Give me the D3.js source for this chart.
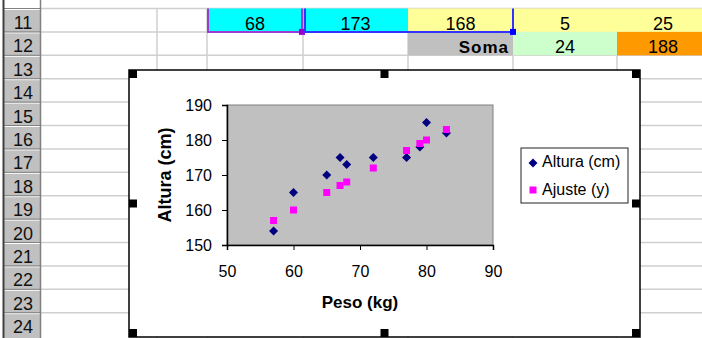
<!DOCTYPE html>
<html>
<head>
<meta charset="utf-8">
<script src="https://cdn.jsdelivr.net/npm/d3@7"></script>
<style>
  body { margin: 0; background: #fff; }
  svg { display: block; font-family: "Liberation Sans", Arial, sans-serif; }
</style>
</head>
<body>
<div id="container"></div>
<script>
// sheet content
const rowNumbers = [11, 12, 13, 14, 15, 16, 17, 18, 19, 20, 21, 22, 23, 24];
const row11Values = [68, 173, 168, 5, 25];
const row12Label = "Soma";
const row12Values = [24, 188];

// chart data
const peso = [57, 60, 65, 67, 68, 72, 77, 79, 80, 83];
const altura = [154, 165, 170, 175, 173, 175, 175, 178, 185, 182];
const ajuste = [157, 160, 165, 167, 168, 172, 177, 179, 180, 183];
const xTicks = [50, 60, 70, 80, 90];
const yTicks = [150, 160, 170, 180, 190];
const seriesNames = ["Altura (cm)", "Ajuste (y)"];

// layout
const width = 702, height = 338;
const colEdges = [41, 157, 207, 303, 408, 513, 617, 709];
const row11Fills = ["#00ffff", "#00ffff", "#ffff99", "#ffff99", "#ffff99"];
const row12Fills = ["#c0c0c0", "#ccffcc", "#ff9900"];
const rowY = d3.scaleLinear().domain([11, 12]).range([8.5, 31.9]);
const rowH = rowY(12) - rowY(11);

const svg = d3.select("#container").append("svg")
    .attr("width", width)
    .attr("height", height);

svg.append("rect").attr("width", width).attr("height", height).attr("fill", "#fff");

// gridlines
const grid = svg.append("g").attr("stroke", "#cfcfcf").attr("stroke-width", 1.5);
colEdges.slice(1, -1).forEach(x => {
    grid.append("line").attr("x1", x).attr("x2", x).attr("y1", rowY(11)).attr("y2", height);
});
rowNumbers.forEach(r => {
    grid.append("line").attr("x1", 41).attr("x2", width).attr("y1", rowY(r)).attr("y2", rowY(r));
});

// filled cells of row 11 (columns C..G) and row 12 (columns E..G)
row11Values.forEach((v, i) => {
    let c = i + 2;
    svg.append("rect")
        .attr("x", colEdges[c]).attr("y", rowY(11))
        .attr("width", colEdges[c + 1] - colEdges[c]).attr("height", rowH)
        .attr("fill", row11Fills[i]);
    svg.append("text")
        .attr("x", (colEdges[c] + colEdges[c + 1]) / 2)
        .attr("y", rowY(11) + 21)
        .attr("text-anchor", "middle")
        .attr("font-size", 18)
        .text(v);
});
[row12Label].concat(row12Values).forEach((v, i) => {
    let c = i + 4;
    svg.append("rect")
        .attr("x", colEdges[c]).attr("y", rowY(12))
        .attr("width", colEdges[c + 1] - colEdges[c]).attr("height", rowH)
        .attr("fill", row12Fills[i]);
    let t = svg.append("text").attr("y", rowY(12) + 21).attr("font-size", 18).text(v);
    if (i == 0) {
        t.attr("x", colEdges[c + 1] - 4).attr("text-anchor", "end")
            .attr("font-weight", "bold").attr("font-size", 17).attr("letter-spacing", 1);
    } else {
        t.attr("x", (colEdges[c] + colEdges[c + 1]) / 2).attr("text-anchor", "middle");
    }
});

// formula range highlights
svg.append("path")
    .attr("d", `M${colEdges[2] + 1},${rowY(11)} V${rowY(12)} H${colEdges[3] - 1} V${rowY(11)}`)
    .attr("fill", "none").attr("stroke", "#9a3cd8").attr("stroke-width", 2);
svg.append("rect").attr("x", colEdges[3] - 4).attr("y", rowY(12) - 3).attr("width", 6).attr("height", 6).attr("fill", "#9900cc");
svg.append("path")
    .attr("d", `M${colEdges[3] + 2},${rowY(11)} V${rowY(12)} H${colEdges[5]} V${rowY(11)}`)
    .attr("fill", "none").attr("stroke", "#3333ff").attr("stroke-width", 2);
svg.append("rect").attr("x", colEdges[5] - 3).attr("y", rowY(12) - 3).attr("width", 6).attr("height", 6).attr("fill", "#0000ff");

// row headers
const header = svg.append("g");
header.append("rect").attr("x", 4).attr("y", rowY(11)).attr("width", 36).attr("height", height).attr("fill", "#c0c0c0");
rowNumbers.forEach(r => {
    header.append("line").attr("x1", 4).attr("x2", 40).attr("y1", rowY(r) + 1).attr("y2", rowY(r) + 1).attr("stroke", "#fff");
    header.append("line").attr("x1", 4).attr("x2", 40).attr("y1", rowY(r)).attr("y2", rowY(r)).attr("stroke", "#808080");
    header.append("text")
        .attr("x", 23).attr("y", rowY(r) + 20.5)
        .attr("text-anchor", "middle").attr("font-size", 18).attr("fill", "#111")
        .text(r);
});
header.append("line").attr("x1", 3.5).attr("x2", 3.5).attr("y1", 0).attr("y2", height).attr("stroke", "#404040").attr("stroke-width", 2);
header.append("line").attr("x1", 40.5).attr("x2", 40.5).attr("y1", 0).attr("y2", height).attr("stroke", "#808080").attr("stroke-width", 1.5);

// embedded chart object
const chart = { left: 129, top: 70, right: 640, bottom: 337 };
svg.append("rect")
    .attr("x", chart.left).attr("y", chart.top)
    .attr("width", chart.right - chart.left).attr("height", chart.bottom - chart.top)
    .attr("fill", "#fff").attr("stroke", "#000").attr("stroke-width", 1.5);

const plot = { left: 227, top: 105, right: 493, bottom: 245 };
const x = d3.scaleLinear().domain([50, 90]).range([plot.left, plot.right]);
const y = d3.scaleLinear().domain([150, 190]).range([plot.bottom, plot.top]);

svg.append("rect")
    .attr("x", plot.left).attr("y", plot.top)
    .attr("width", plot.right - plot.left).attr("height", plot.bottom - plot.top)
    .attr("fill", "#c0c0c0").attr("stroke", "#808080").attr("stroke-width", 1);

const xAxis = svg.append("g")
    .attr("transform", `translate(0,${plot.bottom})`)
    .call(d3.axisBottom(x).tickValues(xTicks).tickSizeOuter(0).tickSize(5).tickPadding(16));
const yAxis = svg.append("g")
    .attr("transform", `translate(${plot.left},0)`)
    .call(d3.axisLeft(y).tickValues(yTicks).tickSizeOuter(0).tickSize(5).tickPadding(10));
[xAxis, yAxis].forEach(a => {
    a.select(".domain").attr("stroke", "#000").attr("stroke-width", 1.5);
    a.selectAll(".tick line").attr("stroke", "#000");
    a.selectAll(".tick text").attr("font-size", 16).attr("fill", "#000")
        .attr("font-family", "'Liberation Sans', Arial, sans-serif");
});

svg.append("text")
    .attr("transform", `translate(171,${(plot.top + plot.bottom) / 2}) rotate(-90)`)
    .attr("text-anchor", "middle").attr("font-size", 18).attr("font-weight", "bold")
    .text("Altura (cm)");
svg.append("text")
    .attr("x", (plot.left + plot.right) / 2).attr("y", 308)
    .attr("text-anchor", "middle").attr("font-size", 17).attr("font-weight", "bold")
    .text("Peso (kg)");

// markers
const diamond = (cx, cy) => `M${cx},${cy - 4.5}L${cx + 4.5},${cy}L${cx},${cy + 4.5}L${cx - 4.5},${cy}Z`;
svg.append("g").selectAll("path").data(peso).join("path")
    .attr("d", (d, i) => diamond(x(d), y(altura[i])))
    .attr("fill", "#000080");
svg.append("g").selectAll("rect").data(peso).join("rect")
    .attr("x", (d) => x(d) - 3.5)
    .attr("y", (d, i) => y(ajuste[i]) - 3.5)
    .attr("width", 7).attr("height", 7)
    .attr("fill", "#ff00ff");

// legend
const legend = svg.append("g");
legend.append("rect").attr("x", 521).attr("y", 148).attr("width", 107).attr("height", 55)
    .attr("fill", "#fff").attr("stroke", "#222").attr("stroke-width", 1);
legend.append("path").attr("d", diamond(533, 163)).attr("fill", "#000080");
legend.append("rect").attr("x", 529.5).attr("y", 186.5).attr("width", 7).attr("height", 7).attr("fill", "#ff00ff");
seriesNames.forEach((n, i) => {
    legend.append("text").attr("x", 542).attr("y", 167 + i * 28)
        .attr("font-size", 16).text(n);
});

// selection handles of the chart
const midX = (chart.left + chart.right) / 2, midY = (chart.top + chart.bottom) / 2;
const handles = [
    [chart.left, chart.top], [midX - 4, chart.top], [chart.right - 8, chart.top],
    [chart.left, midY - 4], [chart.right - 8, midY - 4],
    [chart.left, chart.bottom - 8], [midX - 4, chart.bottom - 8], [chart.right - 8, chart.bottom - 8]
];
svg.append("g").selectAll("rect").data(handles).join("rect")
    .attr("x", d => d[0]).attr("y", d => d[1])
    .attr("width", 8).attr("height", 8).attr("fill", "#000");
</script>
</body>
</html>
